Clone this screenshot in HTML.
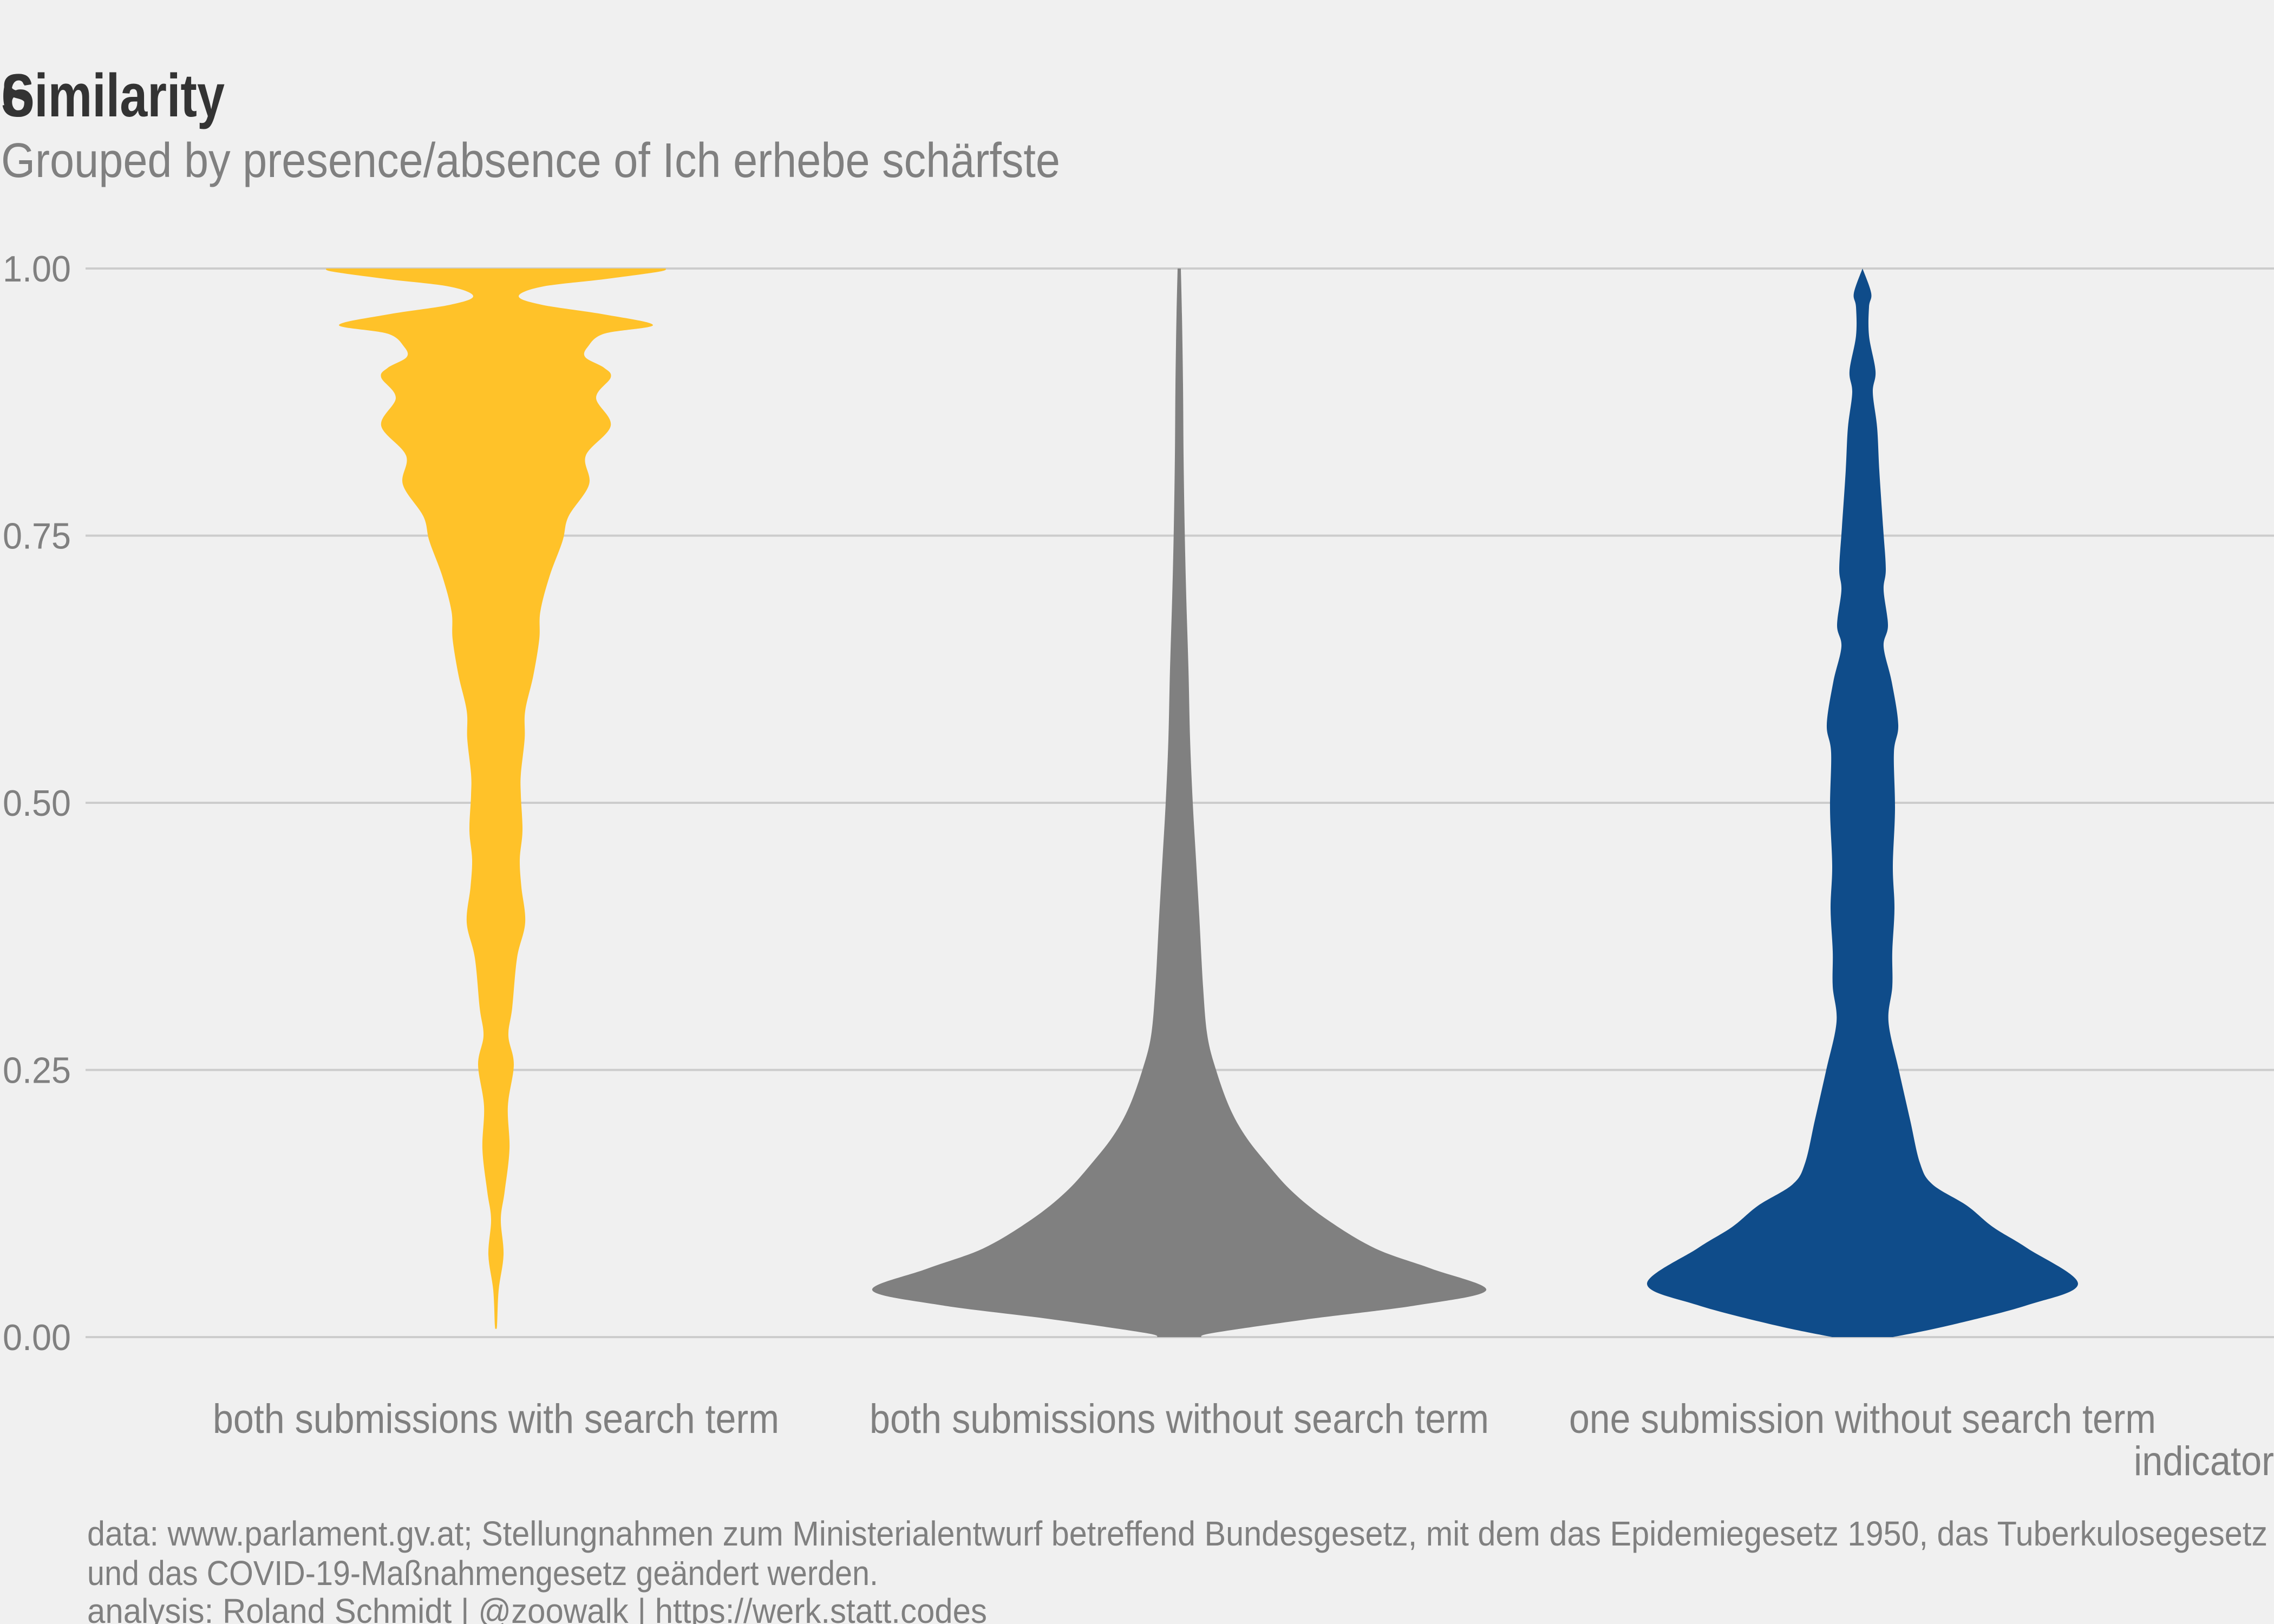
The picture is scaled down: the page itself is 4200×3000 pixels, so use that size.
<!DOCTYPE html>
<html><head><meta charset="utf-8">
<style>
html,body{margin:0;padding:0;background:#f0f0f0;}
svg{display:block;}
text{font-family:"Liberation Sans Narrow","Liberation Sans",sans-serif;}
</style></head>
<body>
<svg id="chart" width="4200" height="3000" viewBox="0 0 4200 3000" xmlns="http://www.w3.org/2000/svg">
<rect width="4200" height="3000" fill="#f0f0f0"/>
<g>
<text x="2" y="215" font-size="112" font-weight="bold" fill="#333333" textLength="413" lengthAdjust="spacingAndGlyphs">Similarity</text>
<text x="2" y="215" font-size="112" font-weight="bold" fill="#333333">6</text>
<text x="2" y="327" font-size="90" fill="#808080" textLength="1956" lengthAdjust="spacingAndGlyphs">Grouped by presence/absence of Ich erhebe schärfste</text>
</g>
<g id="grid"></g>
<g id="yticks"></g>
<g id="violins"></g>
<g id="xlabels"></g>
<text x="4200" y="2725" font-size="76" fill="#808080" text-anchor="end" textLength="259" lengthAdjust="spacingAndGlyphs">indicator</text>
<g fill="#808080" font-size="64">
<text x="161" y="2855" textLength="4027" lengthAdjust="spacingAndGlyphs">data: www.parlament.gv.at; Stellungnahmen zum Ministerialentwurf betreffend Bundesgesetz, mit dem das Epidemiegesetz 1950, das Tuberkulosegesetz</text>
<text x="161" y="2928" textLength="1461" lengthAdjust="spacingAndGlyphs">und das COVID-19-Maßnahmengesetz geändert werden.</text>
<text x="161" y="2998" textLength="1662" lengthAdjust="spacingAndGlyphs">analysis: Roland Schmidt | @zoowalk | https://werk.statt.codes</text>
</g>
</svg>
<script>
const categories = ["both submissions with search term","both submissions without search term","one submission without search term"];
const colors = ["#FFC229","#808080","#0F4C8A"];
const yTicks = [0,0.25,0.5,0.75,1];
const yTickLabels = ["0.00","0.25","0.50","0.75","1.00"];
const yellowY = [1.0,.997,.990,.983,.974,.966,.957,.947,.939,.927,.917,.907,.898,.879,.853,.825,.798,.768,.745,.712,.679,.653,.619,.586,.560,.527,.507,.474,.447,.421,.388,.355,.308,.282,.255,.216,.176,.136,.110,.077,.044,.011,.008];
const yellowW = [314,301,200,85,42,85,200,290,200,170,165,200,212,185,212,166,172,134,123,99,82,80,69,54,53,46,46,49,44,47,54,39,30,23,33,22,25,16,9,14,5,2,0];
const grayY = [1.0,.957,.891,.825,.758,.692,.626,.560,.500,.447,.394,.328,.282,.250,.216,.189,.163,.136,.110,.083,.064,.044,.030,.017,.004,0];
const grayW = [3,5,7,8,10,13,17,20,25,31,37,44,52,68,92,121,161,209,273,362,466,567,442,241,64,40];
const blueY = [1.0,.977,.964,.937,.904,.884,.851,.811,.758,.719,.699,.666,.646,.613,.573,.547,.494,.441,.401,.361,.328,.295,.250,.203,.163,.143,.123,.103,.083,.050,.030,.011,0];
const blueW = [0,16,12,12,24,19,27,31,38,43,39,47,39,54,66,58,60,56,59,55,55,48,67,88,106,129,193,241,305,398,305,161,56];

const NS="http://www.w3.org/2000/svg";
const yPx = v => 2470 - v*1974;
const xPx = i => 916 + i*1262;
const wPx = w => w;

const grid=document.getElementById('grid'), yt=document.getElementById('yticks');
yTicks.forEach((t,i)=>{
  const l=document.createElementNS(NS,'line');
  l.setAttribute('x1',158);l.setAttribute('x2',4200);
  l.setAttribute('y1',yPx(t));l.setAttribute('y2',yPx(t));
  l.setAttribute('stroke','#cccccc');l.setAttribute('stroke-width',4);
  
  
  grid.appendChild(l);
  const tx=document.createElementNS(NS,'text');
  tx.setAttribute('x',131);tx.setAttribute('y',yPx(t)+24);
  tx.setAttribute('text-anchor','end');tx.setAttribute('font-size',68);
  tx.setAttribute('fill','#808080');
  tx.setAttribute('textLength',126);tx.setAttribute('lengthAdjust','spacingAndGlyphs');
  tx.textContent=yTickLabels[i];
  
  
  yt.appendChild(tx);
});

function smoothPath(pts){
  let d='M'+pts[0][0].toFixed(1)+','+pts[0][1].toFixed(1);
  for(let i=0;i<pts.length-1;i++){
    const p0=pts[Math.max(i-1,0)],p1=pts[i],p2=pts[i+1],p3=pts[Math.min(i+2,pts.length-1)];
    const c1=[p1[0]+(p2[0]-p0[0])/6,p1[1]+(p2[1]-p0[1])/6];
    const c2=[p2[0]-(p3[0]-p1[0])/6,p2[1]-(p3[1]-p1[1])/6];
    d+='C'+c1[0].toFixed(1)+','+c1[1].toFixed(1)+' '+c2[0].toFixed(1)+','+c2[1].toFixed(1)+' '+p2[0].toFixed(1)+','+p2[1].toFixed(1);
  }
  return d;
}
const vg=document.getElementById('violins');
const series=[[yellowY,yellowW],[grayY,grayW],[blueY,blueW]];
series.forEach((s,i)=>{
  const cx=xPx(i);
  const right=s[0].map((v,k)=>[cx+wPx(s[1][k]),yPx(v)]);
  const left=s[0].map((v,k)=>[cx-wPx(s[1][k]),yPx(v)]).reverse();
  let d=smoothPath(right);
  d+='L'+left[0][0].toFixed(1)+','+left[0][1].toFixed(1);
  d+=smoothPath(left).replace(/^M[^C]*/,'');
  d+='Z';
  const p=document.createElementNS(NS,'path');
  p.setAttribute('d',d);p.setAttribute('fill',colors[i]);
  
  
  vg.appendChild(p);
});
const xl=document.getElementById('xlabels');
const lw=[1046,1144,1084];
categories.forEach((c,i)=>{
  const t=document.createElementNS(NS,'text');
  t.setAttribute('x',xPx(i));t.setAttribute('y',2647);
  t.setAttribute('text-anchor','middle');t.setAttribute('font-size',76);
  t.setAttribute('fill','#808080');
  t.setAttribute('textLength',lw[i]);t.setAttribute('lengthAdjust','spacingAndGlyphs');
  t.textContent=c;
  
  
  xl.appendChild(t);
});
</script>
</body></html>
